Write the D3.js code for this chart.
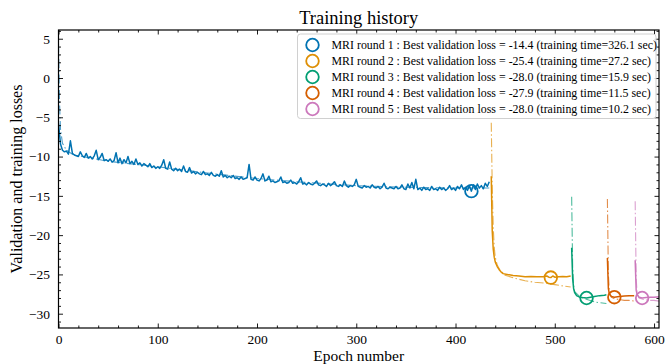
<!DOCTYPE html>
<html>
<head>
<meta charset="utf-8">
<script src="https://cdn.jsdelivr.net/npm/d3@7"></script>
<style>
  html, body { margin: 0; padding: 0; background: #fff; }
  svg { display: block; }
  text { font-family: "Liberation Serif", "Times New Roman", serif; fill: #000; }
</style>
</head>
<body>
<script>
// ---------------- DATA ----------------
const roundNames = ["MRI round 1", "MRI round 2", "MRI round 3", "MRI round 4", "MRI round 5"];
const roundColors = ["#0173B2", "#DE8F05", "#029E73", "#D55E00", "#CC78BC"];
const bestLoss = [-14.4, -25.4, -28.0, -27.9, -28.0];
const bestEpoch = [416, 496, 532, 560, 588];
const trainTime = [326.1, 27.2, 15.9, 11.5, 10.2];

// Round 1 validation loss, one value every 2 epochs starting at epoch 0
const r1ValStep = 2;
const r1Val = [
  -5.8, -8.4, -9.2, -9.4, -9.3, -9.7, -8.0, -9.6, -9.8, -9.9,
  -10.0, -9.4, -9.9, -10.1, -9.6, -10.2, -10.0, -10.3, -9.9, -9.2,
  -10.4, -10.1, -9.6, -10.5, -10.4, -10.6, -10.3, -10.7, -10.5, -9.5,
  -10.8, -10.2, -10.9, -10.4, -10.8, -10.0, -10.9, -10.6, -11.0, -10.3,
  -11.0, -10.8, -11.2, -10.9, -11.1, -11.3, -10.9, -11.4, -11.2, -11.5,
  -11.3, -11.5, -11.1, -10.4, -11.5, -11.6, -10.7, -11.6, -11.8, -11.5,
  -11.8, -11.6, -11.9, -11.2, -11.9, -12.0, -11.4, -12.1, -11.9, -12.2,
  -12.0, -12.2, -12.3, -11.9, -12.3, -12.2, -12.4, -12.0, -12.4, -12.5,
  -12.3, -12.5, -11.8, -12.6, -12.4, -12.7, -12.5, -12.7, -12.4, -12.8,
  -12.7, -12.9, -12.6, -12.9, -12.8, -12.7, -11.0, -12.9, -13.0, -12.6,
  -13.0, -13.1, -12.8, -12.2, -13.1, -13.0, -12.5, -13.2, -13.1, -13.3,
  -13.2, -13.1, -12.6, -13.3, -13.2, -13.4, -13.3, -13.0, -13.4, -13.3,
  -13.5, -13.2, -12.7, -13.5, -13.4, -13.6, -13.3, -13.5, -13.6, -13.4,
  -13.1, -13.6, -13.7, -13.5, -13.6, -13.8, -13.4, -13.7, -13.5, -13.2,
  -13.7, -13.8, -13.6, -13.8, -13.1, -13.7, -13.9, -13.7, -13.8, -13.6,
  -12.9, -13.8, -13.9, -14.0, -13.7, -13.9, -13.8, -14.0, -13.6, -13.9,
  -14.0, -13.8, -14.1, -13.9, -13.4, -14.0, -14.1, -13.9, -14.0, -14.1,
  -13.8, -14.1, -14.0, -13.6, -14.1, -14.2, -13.5, -14.0, -13.3, -14.1,
  -12.9, -14.2, -14.0, -14.3, -13.9, -14.2, -14.1, -14.3, -13.8, -14.2,
  -14.1, -14.3, -13.9, -14.2, -14.0, -14.3, -14.1, -13.7, -14.2, -14.0,
  -14.3, -13.8, -14.1, -13.6, -14.2, -13.9, -14.3, -13.7, -14.4, -13.6,
  -14.2, -13.5, -14.0, -13.7, -14.1, -13.4, -13.8, -13.2
];
// Round 1 training loss
const r1TrainEpochs = [0, 1, 2, 4, 8, 14, 20, 50, 100, 150, 200, 250, 300, 350, 400, 434];
const r1Train = [4.4, -3.0, -6.5, -8.3, -9.2, -9.7, -9.9, -10.6, -11.3, -12.1, -12.8, -13.3, -13.7, -13.9, -14.0, -14.0];

// Round 2
const r2ValEpochs = [436, 437, 438, 439, 440, 442, 444, 446, 448, 452, 458, 464, 470, 476, 482, 488, 492, 494, 496, 498, 500, 504, 508, 512, 516];
const r2Val = [-12.5, -19.5, -21.8, -22.8, -23.4, -24.0, -24.4, -24.7, -24.9, -25.0, -25.15, -25.2, -25.3, -25.25, -25.3, -25.3, -25.2, -25.35, -25.4, -25.2, -25.35, -25.3, -25.25, -25.3, -25.2];
const r2TrainEpochs = [436, 437, 438, 439, 440, 442, 445, 450, 460, 470, 480, 490, 500, 510, 516];
const r2Train = [-5.7, -14.0, -19.0, -21.5, -22.8, -23.8, -24.5, -25.1, -25.5, -25.8, -26.0, -26.1, -26.3, -26.5, -26.6];

// Round 3
const r3ValEpochs = [517, 518, 519, 520, 522, 525, 528, 532, 536, 540, 545, 550, 552];
const r3Val = [-21.6, -25.5, -26.8, -27.3, -27.7, -27.9, -27.95, -28.0, -27.9, -27.8, -27.7, -27.65, -27.6];
const r3TrainEpochs = [517, 518, 519, 520, 525, 530, 535, 540, 545, 552];
const r3Train = [-15.1, -24.0, -26.5, -27.2, -27.8, -28.1, -28.3, -28.5, -28.6, -28.7];

// Round 4
const r4ValEpochs = [553, 554, 555, 557, 560, 565, 570, 575, 580];
const r4Val = [-22.9, -26.8, -27.5, -27.8, -27.9, -27.8, -27.75, -27.7, -27.7];
const r4TrainEpochs = [553, 554, 555, 557, 560, 565, 570, 575, 580];
const r4Train = [-15.4, -25.0, -27.3, -27.9, -28.1, -28.2, -28.3, -28.3, -28.4];

// Round 5
const r5ValEpochs = [581, 582, 583, 585, 588, 592, 596, 600, 605];
const r5Val = [-23.2, -27.0, -27.6, -27.9, -28.0, -27.95, -27.9, -27.9, -27.85];
const r5TrainEpochs = [581, 582, 583, 585, 590, 595, 600, 605];
const r5Train = [-15.7, -25.5, -27.5, -28.0, -28.2, -28.3, -28.3, -28.4];

const xMajorTicks = [0, 100, 200, 300, 400, 500, 600];
const yMajorTicks = [-30, -25, -20, -15, -10, -5, 0, 5];

// ---------------- LAYOUT ----------------
const W = 665, H = 364;
const L = 58.5, R = 659, T = 30, B = 328;

const x = d3.scaleLinear().domain([0, 605]).range([L, R]);
const y = d3.scaleLinear().domain([-31.82, 6.11]).range([B, T]);

const svg = d3.select("body").append("svg").attr("width", W).attr("height", H);

svg.append("defs").append("clipPath").attr("id", "plotclip")
  .append("rect").attr("x", L).attr("y", T).attr("width", R - L).attr("height", B - T);

// series assembly
const zip = (ep, v) => ep.map((e, i) => [e, v[i]]);
const r1ValPts = r1Val.map((v, i) => [i * r1ValStep, v]);
const series = [
  { train: zip(r1TrainEpochs, r1Train), val: r1ValPts },
  { train: zip(r2TrainEpochs, r2Train), val: zip(r2ValEpochs, r2Val) },
  { train: zip(r3TrainEpochs, r3Train), val: zip(r3ValEpochs, r3Val) },
  { train: zip(r4TrainEpochs, r4Train), val: zip(r4ValEpochs, r4Val) },
  { train: zip(r5TrainEpochs, r5Train), val: zip(r5ValEpochs, r5Val) }
];

const line = d3.line().x(d => x(d[0])).y(d => y(d[1]));
const plot = svg.append("g").attr("clip-path", "url(#plotclip)");

series.forEach((s, i) => {
  plot.append("path").datum(s.train)
    .attr("d", line).attr("fill", "none")
    .attr("stroke", roundColors[i]).attr("stroke-width", 1.1)
    .attr("stroke-opacity", 0.7)
    .attr("stroke-dasharray", "9,2.5,1.5,2.5");
  plot.append("path").datum(s.val)
    .attr("d", line).attr("fill", "none")
    .attr("stroke", roundColors[i]).attr("stroke-width", 1.5)
    .attr("stroke-linejoin", "round");
});
series.forEach((s, i) => {
  plot.append("circle")
    .attr("cx", x(bestEpoch[i])).attr("cy", y(bestLoss[i])).attr("r", 6.3)
    .attr("fill", "none").attr("stroke", roundColors[i]).attr("stroke-width", 1.8);
});

// ---------------- AXES ----------------
const xMinor = d3.range(0, 606, 20).filter(v => v % 100 !== 0);
const yMinor = d3.range(-31, 7, 1).filter(v => v % 5 !== 0);
const MAJ = 4.5, MIN = 2.5;

function styleAxis(g) {
  g.select(".domain").remove();
  g.selectAll(".tick line").attr("stroke", "#000").attr("stroke-width", 0.9);
}
// bottom
svg.append("g").attr("transform", `translate(0,${B})`)
  .call(d3.axisBottom(x).tickValues(xMajorTicks).tickSize(-MAJ).tickPadding(6).tickFormat(d3.format("d")))
  .call(styleAxis)
  .call(g => g.selectAll("text").attr("font-size", 13.5).attr("font-family", "Liberation Serif"));
svg.append("g").attr("transform", `translate(0,${B})`)
  .call(d3.axisBottom(x).tickValues(xMinor).tickSize(-MIN).tickFormat(""))
  .call(styleAxis);
// top
svg.append("g").attr("transform", `translate(0,${T})`)
  .call(d3.axisTop(x).tickValues(xMajorTicks).tickSize(-MAJ).tickFormat(""))
  .call(styleAxis);
svg.append("g").attr("transform", `translate(0,${T})`)
  .call(d3.axisTop(x).tickValues(xMinor).tickSize(-MIN).tickFormat(""))
  .call(styleAxis);
// left
svg.append("g").attr("transform", `translate(${L},0)`)
  .call(d3.axisLeft(y).tickValues(yMajorTicks).tickSize(-MAJ).tickPadding(MAJ + 4).tickFormat(d3.format("d")))
  .call(styleAxis)
  .call(g => g.selectAll("text").attr("font-size", 13.5).attr("font-family", "Liberation Serif"));
svg.append("g").attr("transform", `translate(${L},0)`)
  .call(d3.axisLeft(y).tickValues(yMinor).tickSize(-MIN).tickFormat(""))
  .call(styleAxis);
// right
svg.append("g").attr("transform", `translate(${R},0)`)
  .call(d3.axisRight(y).tickValues(yMajorTicks).tickSize(-MAJ).tickFormat(""))
  .call(styleAxis);
svg.append("g").attr("transform", `translate(${R},0)`)
  .call(d3.axisRight(y).tickValues(yMinor).tickSize(-MIN).tickFormat(""))
  .call(styleAxis);

// frame
svg.append("rect").attr("x", L).attr("y", T).attr("width", R - L).attr("height", B - T)
  .attr("fill", "none").attr("stroke", "#000").attr("stroke-width", 1.2);

// ---------------- TEXTS ----------------
svg.append("text").attr("x", (L + R) / 2).attr("y", 23.5).attr("text-anchor", "middle")
  .attr("font-size", 18.5).text("Training history");
svg.append("text").attr("x", (L + R) / 2).attr("y", 361).attr("text-anchor", "middle")
  .attr("font-size", 15.5).text("Epoch number");
svg.append("text").attr("transform", `translate(22,${(T + B) / 2}) rotate(-90)`)
  .attr("text-anchor", "middle").attr("font-size", 16).text("Validation and training losses");

// ---------------- LEGEND ----------------
const lg = svg.append("g");
lg.append("rect").attr("x", 297.5).attr("y", 34).attr("width", 358.5).attr("height", 84.5)
  .attr("rx", 3).attr("fill", "#fff").attr("fill-opacity", 0.8)
  .attr("stroke", "#d0d0d0").attr("stroke-width", 1);
roundNames.forEach((n, i) => {
  const cy = 45 + i * 16;
  lg.append("circle").attr("cx", 312.5).attr("cy", cy).attr("r", 6.3)
    .attr("fill", "none").attr("stroke", roundColors[i]).attr("stroke-width", 1.8);
  lg.append("text").attr("x", 331.5).attr("y", cy + 4).attr("font-size", 11.9)
    .text(`${n} : Best validation loss = ${bestLoss[i].toFixed(1)} (training time=${trainTime[i].toFixed(1)} sec)`);
});
</script>
</body>
</html>
